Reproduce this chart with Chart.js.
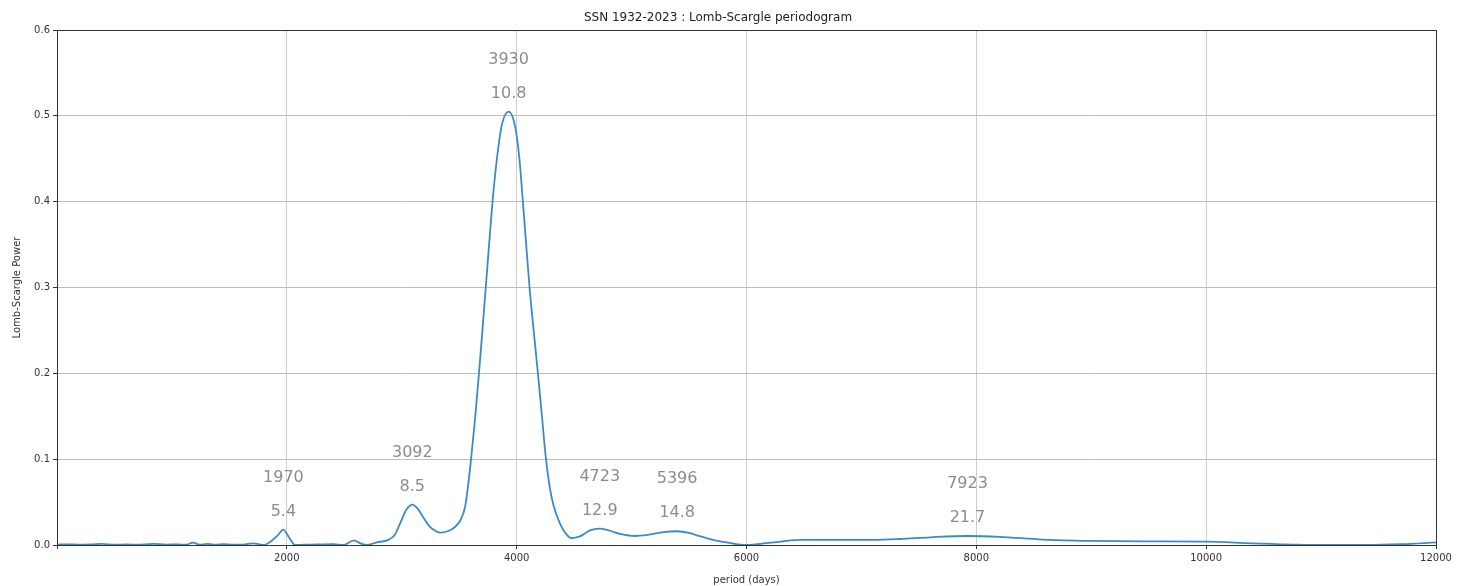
<!DOCTYPE html>
<html>
<head>
<meta charset="utf-8">
<title>SSN 1932-2023 : Lomb-Scargle periodogram</title>
<script src="https://cdn.jsdelivr.net/npm/chart.js@4.4.1/dist/chart.umd.min.js"></script>
<style>
  html, body { margin: 0; padding: 0; background: #fff; }
  #wrap { width: 1463px; height: 586px; position: relative; }
</style>
</head>
<body>
<div id="wrap"><canvas id="periodogram"></canvas></div>
<script>
// period in days, and Lomb-Scargle power at that period
const periods = [
  0, 100, 200, 300, 389, 500, 600, 700, 837, 950, 1050, 1120, 1184, 1240, 1314,
  1380, 1445, 1530, 1620, 1707, 1760, 1795, 1868, 1920, 1970, 2000, 2028, 2071,
  2150, 2260, 2405, 2490, 2585, 2640, 2695, 2782, 2883, 2940, 2985, 3040, 3092,
  3140, 3188, 3240, 3275, 3333, 3400, 3463, 3515, 3552, 3578, 3603, 3640, 3672,
  3702, 3731, 3760, 3790, 3828, 3872, 3930, 3986, 4024, 4054, 4083, 4112, 4148,
  4185, 4220, 4255, 4287, 4319, 4377, 4430, 4479, 4550, 4638, 4723, 4800, 4900,
  5030, 5150, 5280, 5396, 5500, 5600, 5740, 5870, 5987, 6100, 6300, 6466, 6800,
  7100, 7336, 7600, 7923, 8200, 8581, 9000, 9500, 9994, 10400, 10780, 11000,
  11407, 11700, 12000
];
const power = [
  0.0005, 0.0008, 0.0004, 0.0007, 0.0012, 0.0004, 0.0006, 0.0003, 0.0012, 0.0005,
  0.0008, 0.0003, 0.0027, 0.0004, 0.0012, 0.0003, 0.0011, 0.0004, 0.0005, 0.002,
  0.0008, 0.0, 0.005, 0.011, 0.0178, 0.013, 0.007, 0.0, 0.0003, 0.0006, 0.001,
  0.0, 0.0055, 0.002, 0.0, 0.003, 0.006, 0.012, 0.025, 0.041, 0.047, 0.042,
  0.032, 0.022, 0.018, 0.0145, 0.016, 0.021, 0.03, 0.045, 0.07, 0.1, 0.15, 0.2,
  0.25, 0.3, 0.35, 0.4, 0.45, 0.49, 0.505, 0.488, 0.45, 0.4, 0.35, 0.3, 0.25,
  0.2, 0.15, 0.1, 0.068, 0.047, 0.025, 0.013, 0.008, 0.01, 0.017, 0.019, 0.017,
  0.013, 0.0105, 0.012, 0.015, 0.016, 0.014, 0.01, 0.005, 0.002, 0.0, 0.001,
  0.004, 0.006, 0.006, 0.006, 0.007, 0.009, 0.0105, 0.0095, 0.0063, 0.0048,
  0.0042, 0.0039, 0.002, 0.0005, 0.0002, 0.0, 0.001, 0.003
];

// labelled peaks: period in days and the same period in years
const peakDays = [1970, 3092, 3930, 4723, 5396, 7923];
const peakYears = ["5.4", "8.5", "10.8", "12.9", "14.8", "21.7"];

const xTicks = [0, 2000, 4000, 6000, 8000, 10000, 12000];
const yTicks = [0, 0.1, 0.2, 0.3, 0.4, 0.5, 0.6];

const FONT = "'DejaVu Sans', sans-serif";

const points = periods.map((p, i) => ({ x: p, y: power[i] }));

// frame around the plot area, like the axes spines
const framePlugin = {
  id: "frame",
  afterDatasetsDraw(chart) {
    const { ctx, chartArea: a } = chart;
    ctx.save();
    ctx.strokeStyle = "#333";
    ctx.lineWidth = 1;
    ctx.strokeRect(Math.round(a.left) + 0.5, Math.round(a.top) + 0.5,
      Math.round(a.right - a.left), Math.round(a.bottom - a.top));
    ctx.restore();
  },
};

// period / years text above each peak
const peakLabels = {
  id: "peakLabels",
  afterDraw(chart) {
    const { ctx } = chart;
    const xs = chart.scales.x;
    const ys = chart.scales.y;
    ctx.save();
    ctx.font = "16px " + FONT;
    ctx.fillStyle = "#8c8c8c";
    ctx.textAlign = "center";
    ctx.textBaseline = "middle";
    peakDays.forEach((d, i) => {
      const idx = periods.indexOf(d);
      const px = xs.getPixelForValue(d);
      const py = ys.getPixelForValue(power[idx]);
      ctx.fillText(String(d), px, py - 52);
      ctx.fillText(peakYears[i], px, py - 18);
    });
    ctx.restore();
  },
};

new Chart(document.getElementById("periodogram"), {
  type: "line",
  data: {
    datasets: [{
      data: points,
      borderColor: "#3b8bc9",
      borderWidth: 1.8,
      pointRadius: 0,
      fill: false,
      cubicInterpolationMode: "monotone",
    }],
  },
  options: {
    responsive: true,
    maintainAspectRatio: false,
    animation: false,
    events: [],
    layout: { padding: { left: 0, right: 27, top: 0, bottom: 0 } },
    plugins: {
      legend: { display: false },
      tooltip: { enabled: false },
      title: {
        display: true,
        text: "SSN 1932-2023 : Lomb-Scargle periodogram",
        color: "#222",
        font: { family: FONT, size: 12, weight: "normal" },
        padding: { top: 11, bottom: 4.6 },
      },
    },
    scales: {
      x: {
        type: "linear",
        min: 0,
        max: 12000,
        afterBuildTicks: (scale) => { scale.ticks = xTicks.map((v) => ({ value: v })); },
        afterFit: (scale) => { scale.height = 41; },
        ticks: {
          color: "#333",
          font: { family: FONT, size: 10 },
          padding: 3,
          maxRotation: 0,
          callback: (v) => (v === 0 ? "" : String(v)),
        },
        grid: { color: "#cfcfcf", tickColor: "#333", tickLength: 4 },
        border: { color: "#333" },
        title: {
          display: true,
          text: "period (days)",
          color: "#333",
          font: { family: FONT, size: 10 },
          padding: { top: 4, bottom: 0 },
        },
      },
      y: {
        min: 0,
        max: 0.6,
        afterBuildTicks: (scale) => { scale.ticks = yTicks.map((v) => ({ value: v })); },
        afterFit: (scale) => { scale.width = 57; },
        ticks: {
          color: "#333",
          font: { family: FONT, size: 10 },
          padding: 3,
          callback: (v) => v.toFixed(1),
        },
        grid: { color: "#bdbdbd", tickColor: "#333", tickLength: 4 },
        border: { color: "#333" },
        title: {
          display: true,
          text: "Lomb-Scargle Power",
          color: "#333",
          font: { family: FONT, size: 10 },
          padding: { top: 11, bottom: 0 },
        },
      },
    },
  },
  plugins: [framePlugin, peakLabels],
});
</script>
</body>
</html>
